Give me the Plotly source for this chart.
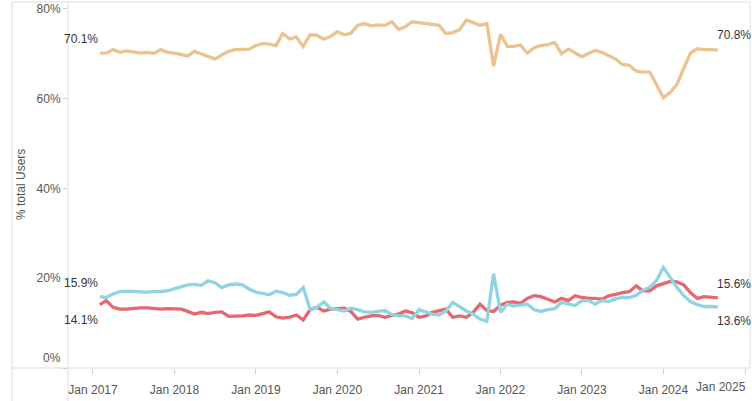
import pandas as pd
import plotly.graph_objects as go

months = pd.date_range("2017-02-01", periods=92, freq="MS")

share_a = [70.1, 70.1, 70.9, 70.3, 70.6, 70.3, 70.1, 70.3, 70.1, 70.9, 70.3, 70.1,
           69.7, 69.5, 70.5, 70.0, 69.3, 68.8, 69.7, 70.5, 70.9, 70.9, 71.0, 71.8,
           72.3, 72.1, 71.8, 74.5, 73.3, 73.7, 71.6, 74.2, 74.1, 73.2, 73.8, 74.9,
           74.2, 74.5, 76.3, 76.7, 76.2, 76.4, 76.3, 77.1, 75.4, 76.0, 77.1, 76.9,
           76.7, 76.5, 76.3, 74.5, 74.7, 75.3, 77.5, 76.9, 76.3, 76.7, 67.2, 74.3,
           71.6, 71.6, 71.9, 70.1, 71.3, 71.8, 72.0, 72.5, 70.0, 71.0, 70.1, 69.3,
           70.1, 70.7, 70.3, 69.6, 68.8, 67.6, 67.4, 66.1, 65.9, 65.9, 63.1, 60.2,
           61.4, 63.1, 66.7, 70.1, 71.1, 70.9, 70.9, 70.8]

share_b = [15.9, 15.7, 16.5, 17.0, 17.1, 17.0, 16.9, 16.9, 17.0, 17.0, 17.2, 17.6,
           18.1, 18.5, 18.6, 18.4, 19.4, 19.0, 17.9, 18.5, 18.7, 18.5, 17.6, 16.9,
           16.6, 16.3, 17.1, 16.8, 16.2, 16.4, 17.9, 13.1, 13.5, 14.7, 13.3, 13.0,
           12.7, 13.3, 13.0, 12.5, 12.4, 12.6, 12.8, 11.9, 11.6, 11.6, 11.0, 13.0,
           12.4, 12.0, 11.8, 12.7, 14.6, 13.7, 12.7, 12.0, 10.9, 10.4, 21.0, 12.4,
           14.2, 13.8, 14.0, 14.2, 13.0, 12.6, 13.0, 13.2, 14.6, 14.2, 13.9, 15.0,
           15.0, 14.2, 15.0, 14.8, 15.4, 15.7, 15.7, 16.2, 17.3, 18.0, 19.5, 22.4,
           20.0, 18.0, 16.1, 14.8, 14.1, 13.7, 13.7, 13.6]

share_c = [14.1, 15.0, 13.5, 13.1, 13.1, 13.3, 13.4, 13.4, 13.3, 13.1, 13.2, 13.2,
           13.1, 12.6, 12.0, 12.4, 12.1, 12.4, 12.5, 11.5, 11.5, 11.6, 11.8, 11.7,
           12.1, 12.5, 11.4, 11.1, 11.3, 11.8, 10.7, 13.0, 13.5, 12.7, 13.1, 13.2,
           13.3, 12.6, 10.9, 11.3, 11.6, 11.7, 11.3, 11.7, 12.0, 12.7, 12.3, 11.3,
           11.6, 12.4, 12.7, 13.1, 11.3, 11.6, 11.3, 12.4, 14.2, 12.8, 12.6, 14.0,
           14.6, 14.7, 14.4, 15.5, 16.1, 15.9, 15.3, 14.7, 15.5, 15.0, 16.1, 15.7,
           15.5, 15.5, 15.3, 16.1, 16.4, 16.8, 17.0, 18.3, 17.2, 17.2, 18.3, 18.8,
           19.3, 19.2, 18.5, 16.8, 15.5, 15.9, 15.7, 15.6]

y_ticks = [0, 20, 40, 60, 80]
y_tick_text = ["", "20%", "40%", "60%", "80%"]
x_ticks = pd.date_range("2017-01-01", periods=9, freq="YS")
x_tick_text = [f"Jan {d.year}" for d in x_ticks]

col_a = "#EBC391"
col_b = "#8FD4E0"
col_c = "#E5676F"

FONT = "Arial, Liberation Sans, sans-serif"

fig = go.Figure()
for vals, col in [(share_a, col_a), (share_c, col_c), (share_b, col_b)]:
    fig.add_trace(go.Scatter(x=months, y=vals, mode="lines",
                             line=dict(color=col, width=3.3), hoverinfo="skip",
                             showlegend=False))

W, H = 752, 401
L, R, T, B = 68, 2, 2, 33
pw = W - L - R
ph = H - T - B

# last tick label is drawn separately (shifted left to fit, as in the original)
tick_text_shown = x_tick_text[:-1] + [""]

fig.update_layout(
    width=W, height=H,
    margin=dict(l=L, r=R, t=T, b=B, autoexpand=False),
    paper_bgcolor="white", plot_bgcolor="white",
    font=dict(family=FONT, size=12, color="#555"),
    xaxis=dict(range=["2016-09-11", "2025-01-23"], tickvals=x_ticks, ticktext=tick_text_shown,
               showgrid=False, zeroline=False, showline=False, automargin=False,
               ticks="outside", ticklen=5, tickcolor="#ccc", ticklabelstandoff=6,
               tickfont=dict(size=12, color="#555")),
    yaxis=dict(range=[0, 81.5], tickvals=y_ticks, ticktext=y_tick_text,
               showgrid=False, zeroline=False, showline=False, automargin=False,
               ticks="outside", ticklen=4, tickcolor="#ccc", tickfont=dict(size=12, color="#555")),
)

line_col = "#DDDDDD"
def pline(x0, y0, x1, y1):
    fig.add_shape(type="line", xref="paper", yref="paper",
                  x0=(x0 - L) / pw, x1=(x1 - L) / pw,
                  y0=(H - B - y0) / ph, y1=(H - B - y1) / ph,
                  line=dict(color=line_col, width=1), layer="below")

pline(12, 2, 750, 2)      # top border
pline(12, 2, 12, 401)     # left border
pline(750, 2, 750, 368)   # right border
pline(12, 368, 750, 368)  # x axis line
pline(68, 2, 68, 401)     # y axis line

# zero label (shifted up as in the original)
fig.add_annotation(x=0, xref="paper", y=0, yref="y", text="0%", showarrow=False,
                   xanchor="right", xshift=-5, yshift=10, font=dict(size=12, color="#555"))

# last x tick label, right-aligned inside the frame
fig.add_annotation(x=(748 - L) / pw, xref="paper", y=(H - B - 387) / ph, yref="paper",
                   text=x_tick_text[-1], showarrow=False, xanchor="right", yanchor="middle",
                   font=dict(size=12, color="#555"))

# y title
fig.add_annotation(x=(21 - L) / pw, xref="paper", y=(H - B - 185) / ph, yref="paper",
                   text="% total Users", textangle=-90, showarrow=False,
                   xanchor="center", yanchor="middle",
                   font=dict(size=12, color="#555"))

def lab(xv, yv, anchor, shift, xs=0):
    fig.add_annotation(x=xv, y=yv, xref="x", yref="y", text=f"{yv:.1f}%", showarrow=False,
                       xanchor=anchor, yshift=shift, xshift=xs, font=dict(size=12, color="#333"))

lab(months[0], share_a[0], "right", 14)
lab(months[0], share_b[0], "right", 14)
lab(months[0], share_c[0], "right", -15)
lab(months[-1], share_a[-1], "left", 15, -3)
lab(months[-1], share_c[-1], "left", 14, -3)
lab(months[-1], share_b[-1], "left", -14, -3)

fig.write_html("out.html", config={"displayModeBar": False},
               post_script="document.body.style.margin='0';document.body.style.overflow='hidden';")
